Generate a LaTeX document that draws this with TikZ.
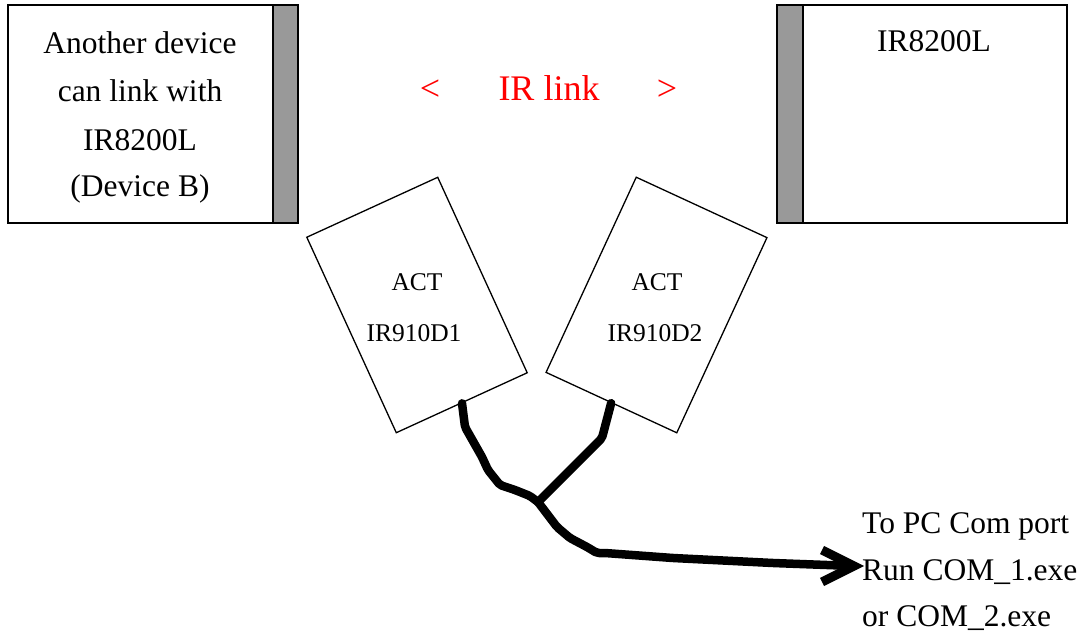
\documentclass[tikz,border=0pt]{standalone}
\usepackage{fontspec}
\setmainfont{Liberation Serif}
\definecolor{stripgray}{HTML}{999999}
\begin{document}
\begin{tikzpicture}[x=1pt,y=-1pt,
  framebox/.style={draw,line width=2.4pt,fill=white},
  stripbox/.style={draw,line width=2.4pt,fill=stripgray},
  bigtxt/.style={font=\fontsize{31.5}{37}\selectfont,anchor=base,inner sep=0pt},
  midtxt/.style={font=\fontsize{25.5}{30}\selectfont,anchor=base,inner sep=0pt},
  linktxt/.style={font=\fontsize{36}{40}\selectfont,anchor=base,inner sep=0pt,text=red},
  adapter/.style={draw,line width=1.3pt,fill=white,rectangle,inner sep=0pt,minimum width=144pt,minimum height=215pt},
  cable/.style={line width=8.5pt,line cap=round,line join=round,rounded corners=2pt},
  cabletip/.style={line width=9pt,line cap=butt,line join=miter}]
\useasboundingbox (0,0) rectangle (1089,634);

% Left device (Device B)
\path[framebox] (8,5) rectangle (298,223);
\path[stripbox] (273,5) rectangle (298,223);
\node[bigtxt] (l1) at (140,53) {Another device};
\node[bigtxt] (l2) at (140,101) {can link with};
\node[bigtxt] (l3) at (140,150) {IR8200L};
\node[bigtxt] (l4) at (140,196) {(Device B)};

% Right device
\path[framebox] (777,5) rectangle (1067,223);
\path[stripbox] (777,5) rectangle (803,223);
\node[bigtxt] (r1) at (934,52) {IR8200L};

% IR link label
\node[linktxt] (lt) at (430,100) {<};
\node[linktxt] (lk) at (549,100) {IR link};
\node[linktxt] (gt) at (667,100) {>};

% Adapters
\node[adapter,rotate=24.6] (d1) at (417,305) {};
\node[adapter,rotate=-24.8] (d2) at (656.5,305) {};
\node[midtxt] (a1) at (417,290) {ACT};
\node[midtxt] (b1) at (414,341) {IR910D1};
\node[midtxt] (a2) at (657,290) {ACT};
\node[midtxt] (b2) at (655,341) {IR910D2};

% Cable
\coordinate (J) at (538,502);
\coordinate (E) at (854,566);
\draw[cable] (d1.south) -- (465,427) -- (482,457) -- (488,470) -- (500,485) -- (515,490) -- (530,496) -- (J);
\draw[cable] (d2.south) -- (602,438) -- (580,460) -- (560,480) -- (J);
\draw[cable] (J) -- (557,527) -- (570,538) -- (587,547) -- (597,553) -- (605,553) -- (673,558) -- (773,563) -- (E);
\coordinate (h1) at (822,550);
\coordinate (h2) at (822,582);
\draw[cabletip] (h1) -- (E) -- (h2);

% PC text
\node[bigtxt,anchor=base west] (p1) at (862,533) {To PC Com port};
\node[bigtxt,anchor=base west] (p2) at (862,580) {Run COM\_1.exe};
\node[bigtxt,anchor=base west] (p3) at (862,626) {or COM\_2.exe};
\end{tikzpicture}
\end{document}
